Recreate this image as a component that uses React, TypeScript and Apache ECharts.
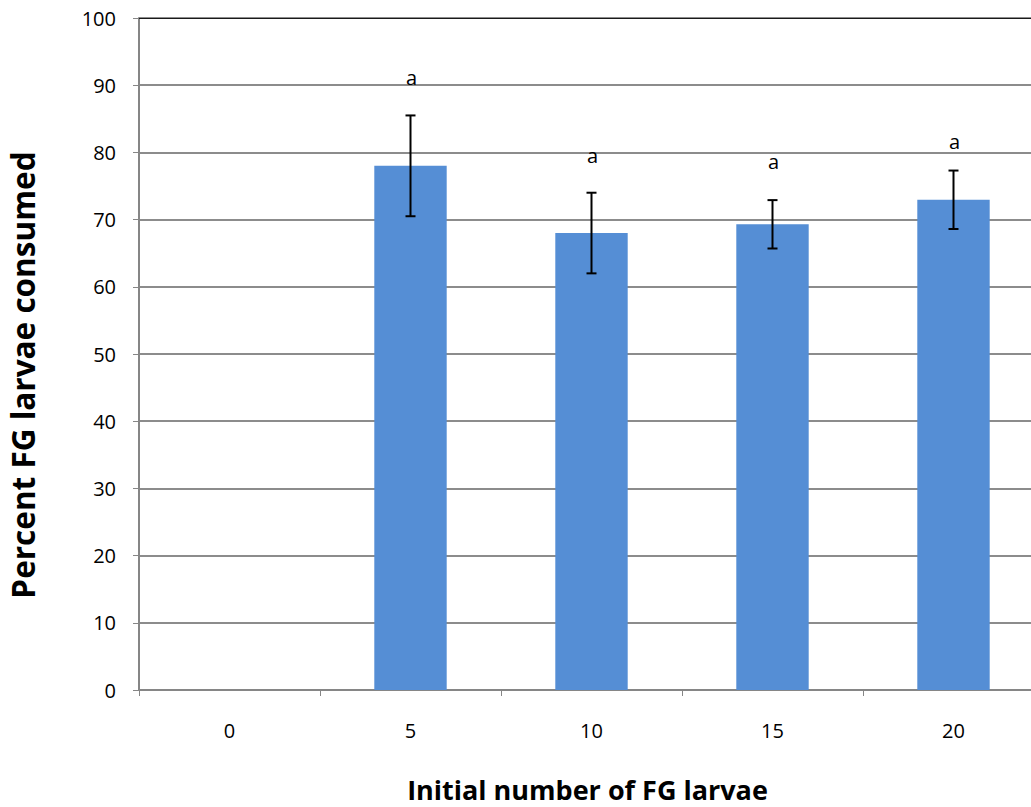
import React, { useEffect, useRef } from "react";
import * as echarts from "echarts";

const categories = ["0", "5", "10", "15", "20"];
const meanValues = [0, 78, 68, 69.3, 72.95];
const errorValues = [0, 7.5, 6, 3.6, 4.35];
const letterLabels = ["", "a", "a", "a", "a"];
const letterPositions = [0, 91.2, 79.5, 78.6, 81.6];
const yTicks = { min: 0, max: 100, interval: 10 };

const FONT = "'Open Sans', 'Noto Sans', sans-serif";

export default function App() {
  const ref = useRef<HTMLDivElement>(null);
  useEffect(() => {
    document.body.style.margin = "0";
    const chart = echarts.init(ref.current!, undefined, { renderer: "svg" });
    const errData = categories.map((c, i) => [i, meanValues[i] - errorValues[i], meanValues[i] + errorValues[i]]);
    const lblData = categories.map((c, i) => [i, letterPositions[i], letterLabels[i]]);
    chart.setOption({
      animation: false,
      backgroundColor: "#ffffff",
      grid: { left: 139, right: 0, top: 18, bottom: 117, containLabel: false, outerBoundsMode: "none" },
      xAxis: [
        {
          type: "category",
          data: categories,
          boundaryGap: true,
          axisLine: { show: true, lineStyle: { color: "#868686", width: 2 } },
          axisTick: { show: true, length: 6, lineStyle: { color: "#868686", width: 1 } },
          axisLabel: { color: "#000", fontFamily: FONT, fontSize: 20, margin: 30 },
          name: "Initial number of FG larvae",
          nameLocation: "middle",
          nameGap: 86,
          nameTextStyle: { color: "#000", fontFamily: FONT, fontSize: 27, fontWeight: "bold", padding: [0, 0, 0, -8] },
        },
        {
          type: "category",
          data: categories,
          position: "top",
          axisLine: { show: true, lineStyle: { color: "#1a1a1a", width: 1 } },
          axisTick: { show: false },
          axisLabel: { show: false },
        },
      ],
      yAxis: {
        type: "value",
        min: yTicks.min,
        max: yTicks.max,
        interval: yTicks.interval,
        axisLine: { show: true, lineStyle: { color: "#868686", width: 2 } },
        axisTick: { show: true, length: 6, lineStyle: { color: "#868686" } },
        axisLabel: { color: "#000", fontFamily: FONT, fontSize: 20, margin: 23 },
        splitLine: { show: true, lineStyle: { color: "#8c8c8c", width: 2 } },
        name: "Percent FG larvae consumed",
        nameLocation: "middle",
        nameGap: 101,
        nameTextStyle: { color: "#000", fontFamily: FONT, fontSize: 31.5, fontWeight: "bold", padding: [0, 42, 0, 0] },
      },
      series: [
        {
          type: "bar",
          data: meanValues,
          barWidth: "40%",
          itemStyle: { color: "#558ed5" },
        },
        {
          type: "custom",
          data: errData,
          z: 5,
          renderItem: (params: any, api: any) => {
            const i = api.value(0);
            if (api.value(2) - api.value(1) <= 0) return null;
            const lo = api.coord([i, api.value(1)]);
            const hi = api.coord([i, api.value(2)]);
            const x = lo[0];
            const cap = 5;
            const style = { stroke: "#000", lineWidth: 2 };
            return {
              type: "group",
              children: [
                { type: "line", shape: { x1: x, y1: lo[1], x2: x, y2: hi[1] }, style },
                { type: "line", shape: { x1: x - cap, y1: lo[1], x2: x + cap, y2: lo[1] }, style },
                { type: "line", shape: { x1: x - cap, y1: hi[1], x2: x + cap, y2: hi[1] }, style },
              ],
            };
          },
        },
        {
          type: "custom",
          data: lblData,
          z: 6,
          renderItem: (params: any, api: any) => {
            const i = api.value(0);
            const txt = letterLabels[params.dataIndex];
            if (!txt) return null;
            const p = api.coord([i, api.value(1)]);
            return {
              type: "text",
              x: p[0] + 1,
              y: p[1],
              style: {
                text: txt,
                fill: "#000",
                fontFamily: FONT,
                fontSize: 20,
                align: "center",
                verticalAlign: "middle",
              },
            };
          },
        },
      ],
    });
    return () => chart.dispose();
  }, []);
  return (
    <div style={{ width: 1031, height: 807, overflow: "hidden", position: "relative" }}>
      <div ref={ref} style={{ width: 1044, height: 807 }} />
    </div>
  );
}
